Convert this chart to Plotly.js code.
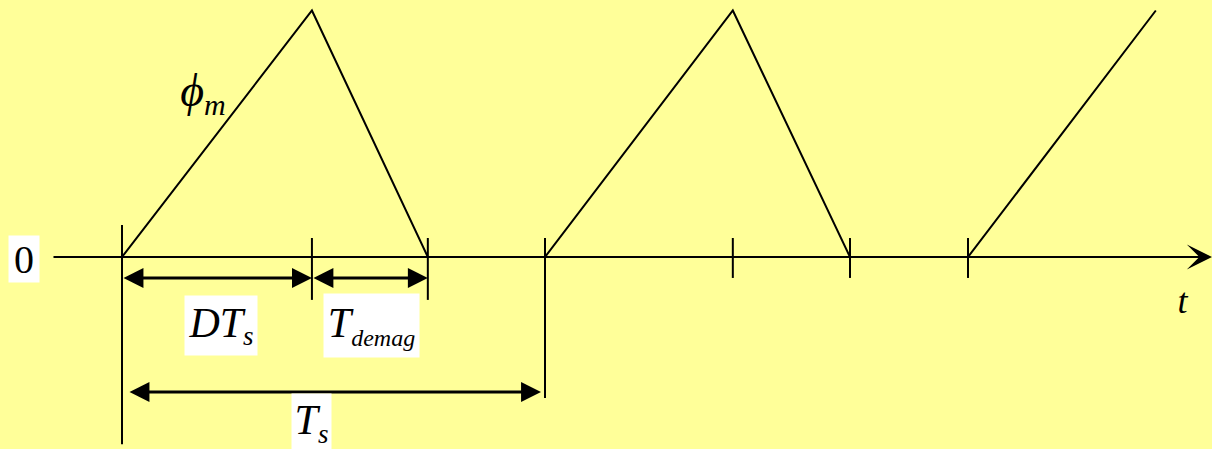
<!DOCTYPE html>
<html><head><meta charset="utf-8">
<script src="https://cdn.plot.ly/plotly-3.0.1.min.js"></script>
<style>html,body{margin:0;padding:0;background:#FFFF99;} #chart{width:1212px;height:449px;}</style>
</head><body><div id="chart"></div>
<script>
// ---- data (time in units of Ts, flux normalised to its peak) ----
const fluxTime  = [0, 0.449, 0.723, 1, 1.444, 1.721, 2, 2.444];
const fluxValue = [0, 1, 0, 0, 1, 0, 0, 1];
const markTimes = [0, 0.449, 0.723, 1, 1.444, 1.721, 2];
const D_Ts = 0.449;       // DTs
const T_demag = 0.274;    // Tdemag
const T_s = 1;            // Ts
const labelText = {
  zero: '0',
  flux: 'ϕ<sub><span style="font-size:30px">m</span></sub>',
  dts: 'DT<sub><span style="font-size:27px">s</span></sub>',
  demag: 'T<sub><span style="font-size:24px">demag</span></sub>',
  ts: 'T<sub><span style="font-size:27px">s</span></sub>',
  t: 't'
};

// ---- layout helpers ----
const tickTop    = [0.13, 0.077, 0.077, 0.077, 0.077, 0.077, 0.077];
const tickBottom = [-0.76, -0.174, -0.174, -0.572, -0.085, -0.085, -0.085];
const tickX = [], tickY = [];
markTimes.forEach((t, i) => { tickX.push(t, t, null); tickY.push(tickTop[i], tickBottom[i], null); });

const ink = '#000000';
const serif = 'Liberation Serif';

const traces = [
  { x: fluxTime, y: fluxValue, mode: 'lines', line: {color: ink, width: 2}, hoverinfo: 'skip' },
  { x: tickX, y: tickY, mode: 'lines', line: {color: ink, width: 2}, hoverinfo: 'skip' }
];

function dimArrow(x0, x1, y, extra) {
  return Object.assign({
    x: x1, y: y, ax: x0, ay: y, xref: 'x', yref: 'y', axref: 'x', ayref: 'y',
    showarrow: true, text: '', arrowhead: 2, startarrowhead: 2, arrowside: 'end+start',
    arrowwidth: 3, arrowsize: 1.33, startarrowsize: 1.33, arrowcolor: ink,
    standoff: 0, startstandoff: 0
  }, extra || {});
}
function label(text, x, y, w, h, size, italic, bg) {
  return {
    x: x, y: y, xref: 'x', yref: 'y', text: text, showarrow: false,
    xanchor: 'center', yanchor: 'middle', width: w, height: h,
    align: 'center', valign: 'middle',
    bgcolor: bg ? '#ffffff' : 'rgba(0,0,0,0)', borderpad: 0,
    font: {family: serif, size: size, color: ink, style: italic ? 'italic' : 'normal'}
  };
}

const annotations = [
  // time axis with arrow
  { x: 2.5768, y: 0, ax: -0.1655, ay: 0, xref: 'x', yref: 'y', axref: 'x', ayref: 'y',
    showarrow: true, text: '', arrowhead: 3, arrowwidth: 2, arrowsize: 2.1, arrowcolor: ink, standoff: 0 },
  dimArrow(0, D_Ts, -0.085),
  dimArrow(D_Ts, D_Ts + T_demag, -0.085),
  dimArrow(0, T_s, -0.548, {startstandoff: 6, standoff: 4}),
  label(labelText.zero, -0.2317, -0.008, 30, 46, 40, false, true),
  label(labelText.dts, 0.234, -0.278, 72, 59, 42, true, true),
  label(labelText.demag, 0.59, -0.278, 95, 63, 42, true, true),
  label(labelText.ts, 0.448, -0.673, 39, 58, 42, true, true),
  label(labelText.flux, 0.192, 0.665, 60, 50, 46, true, false),
  label(labelText.t, 2.508, -0.178, 20, 30, 36, true, false)
];

const layout = {
  width: 1212, height: 449,
  margin: {l: 0, r: 0, t: 0, b: 0, pad: 0},
  paper_bgcolor: '#FFFF99', plot_bgcolor: '#FFFF99',
  showlegend: false,
  xaxis: {range: [-0.2884, 2.5768], visible: false, fixedrange: true},
  yaxis: {range: [-0.7789, 1.0426], visible: false, fixedrange: true},
  annotations: annotations
};

Plotly.newPlot('chart', traces, layout, {displayModeBar: false, staticPlot: true});
</script></body></html>
